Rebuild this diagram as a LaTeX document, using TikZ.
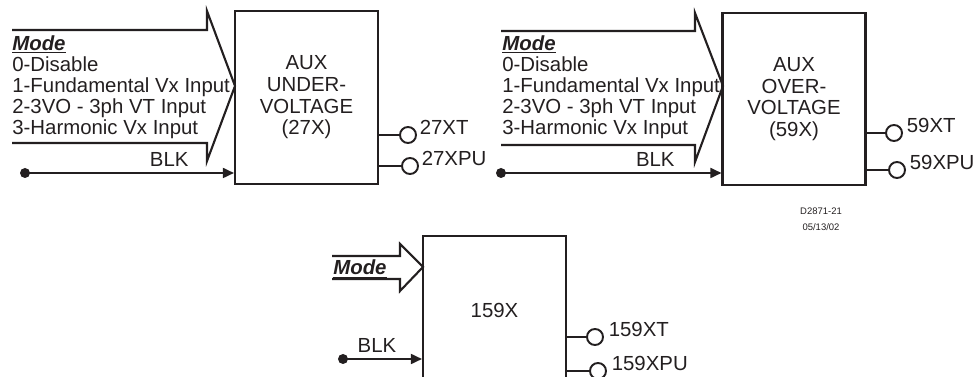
\documentclass[tikz,border=0pt]{standalone}
\usepackage{fontspec}
\setmainfont{Liberation Sans}
\usepackage{tikz}
\usetikzlibrary{arrows.meta, positioning}
\definecolor{mydark}{RGB}{35,31,32}
\newcommand{\modehead}{\underline{\textbf{\textit{Mode}}}}
\tikzset{
  block/.style={rectangle, draw=mydark, text=mydark, minimum width=2.86cm, minimum height=3.45cm,
    align=center, inner sep=0pt, font=\fontsize{11.6}{12.3}\selectfont, line width=1.2pt},
  modearr/.style={draw=mydark, line width=1.2pt, line join=miter},
  wire/.style={line width=1.2pt, color=mydark}
}

\begin{document}
\begin{tikzpicture}[
  modetxt/.style={anchor=north west, align=left, inner sep=0pt, text=mydark, font=\fontsize{11.6}{12.05}\selectfont},
  blkdot/.style={circle, fill=mydark, inner sep=0pt, minimum size=0.2cm},
  blkarr/.style={-{Triangle[length=0.22cm, width=0.2cm]}, line width=1pt, color=mydark},
  blklbl/.style={above, text=mydark, font=\fontsize{11.6}{12}\selectfont},
  outpin/.style={circle, draw=mydark, line width=1.1pt, minimum size=0.32cm, inner sep=0pt},
  outlbl/.style={inner sep=0pt, text=mydark, font=\fontsize{11.6}{12}\selectfont}
]
\useasboundingbox (0,0) rectangle (19.52,7.54);
\clip (0,0) rectangle (19.52,7.54);

%--- 27X block ---
\node[block] (b1) at (6.13,5.59) {AUX\\UNDER-\\VOLTAGE\\(27X)};
\draw[modearr] (0.24,6.94) -- (4.14,6.94) -- (4.14,7.32) -- (4.70,5.82)
  -- (4.14,4.32) -- (4.14,4.68) -- (0.24,4.68);
\node[modetxt] (m1) at (0.24,6.84) {\modehead\\0-Disable\\1-Fundamental Vx Input\\2-3VO - 3ph VT Input\\3-Harmonic Vx Input};
\node[blkdot] (d1) at (0.50,4.08) {};
\draw[blkarr] (d1.center) -- node[blklbl, pos=0.69] (k1) {BLK} (d1 -| b1.west);
\node[outpin] (xt1)  at (8.16,4.84) {};
\node[outpin] (xpu1) at (8.20,4.22) {};
\draw[wire] (b1.east |- xt1) -- (xt1);
\draw[wire] (b1.east |- xpu1) -- (xpu1);
\node[outlbl, right=0.05cm of xt1.east,  yshift=0.15cm] (lxt1)  {27XT};
\node[outlbl, right=0.05cm of xpu1.east, yshift=0.15cm] (lxpu1) {27XPU};

%--- 59X block ---
\node[block] (b2) at (15.88,5.56) {AUX\\OVER-\\VOLTAGE\\(59X)};
\draw[modearr] (10.02,6.92) -- (13.90,6.92) -- (13.90,7.28) -- (14.46,5.82)
  -- (13.90,4.30) -- (13.90,4.64) -- (10.02,4.64);
\node[modetxt] (m2) at (10.04,6.84) {\modehead\\0-Disable\\1-Fundamental Vx Input\\2-3VO - 3ph VT Input\\3-Harmonic Vx Input};
\node[blkdot] (d2) at (10.02,4.08) {};
\draw[blkarr] (d2.center) -- node[blklbl, pos=0.70] (k2) {BLK} (d2 -| b2.west);
\node[outpin] (xt2)  at (17.88,4.88) {};
\node[outpin] (xpu2) at (17.94,4.14) {};
\draw[wire] (b2.east |- xt2) -- (xt2);
\draw[wire] (b2.east |- xpu2) -- (xpu2);
\node[outlbl, right=0.07cm of xt2.east,  yshift=0.15cm] (lxt2)  {59XT};
\node[outlbl, right=0.07cm of xpu2.east, yshift=0.15cm] (lxpu2) {59XPU};

\node[align=center, inner sep=0pt, text=mydark, font=\fontsize{5.4}{9.1}\selectfont] (dwg) at (16.42,3.16) {D2871-21\\05/13/02};

%--- 159X block ---
\node[block, minimum height=2.96cm] (b3) at (9.89,1.34) {159X};
\draw[modearr] (6.64,2.42) -- (8.00,2.42) -- (8.00,2.66) -- (8.46,2.20)
  -- (8.00,1.72) -- (8.00,1.96) -- (6.64,1.96);
\node[modetxt, anchor=base west] (m3) at (6.66,2.05) {\modehead};
\node[blkdot] (d3) at (6.86,0.36) {};
\draw[blkarr] (d3.center) -- node[blklbl, pos=0.43] (k3) {BLK} (d3 -| b3.west);
\node[outpin] (xt3)  at (11.90,0.80) {};
\node[outpin] (xpu3) at (11.96,0.12) {};
\draw[wire] (b3.east |- xt3) -- (xt3);
\draw[wire] (b3.east |- xpu3) -- (xpu3);
\node[outlbl, right=0.09cm of xt3.east,  yshift=0.15cm] (lxt3)  {159XT};
\node[outlbl, right=0.09cm of xpu3.east, yshift=0.15cm] (lxpu3) {159XPU};
\end{tikzpicture}
\end{document}
